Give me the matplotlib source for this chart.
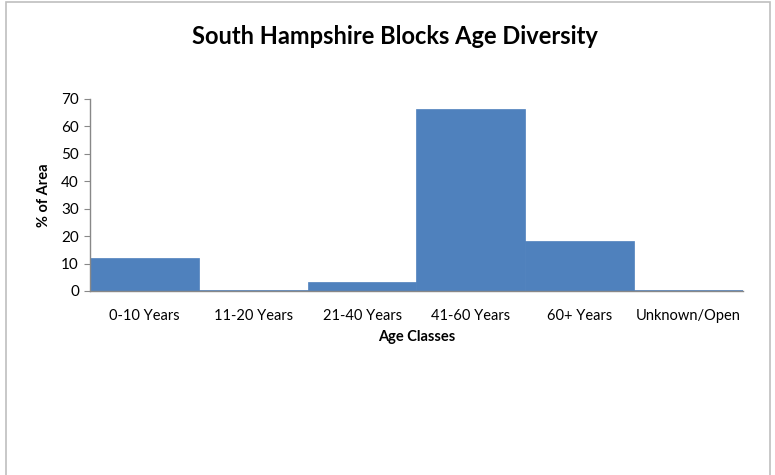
import matplotlib.pyplot as plt
from matplotlib.patches import Rectangle

# age class share of area, South Hampshire blocks
categories = ['0-10 Years', '11-20 Years', '21-40 Years', '41-60 Years', '60+ Years', 'Unknown/Open']
pct_area = [11.9, 0.4, 3.2, 66.3, 18.3, 0.3]
yticks = [0, 10, 20, 30, 40, 50, 60, 70]

plt.rcParams['font.family'] = ['Lato', 'DejaVu Sans']

fig = plt.figure(figsize=(7.75, 4.75), dpi=100)
ax = fig.add_axes([90/775, 1 - 291/475, 653/775, 192/475])

# chart frame
fig.patches.append(Rectangle((6/775, -0.05), 764/775, 1 - 2/475 + 0.05,
                             transform=fig.transFigure, fill=False,
                             edgecolor='#BFBFBF', linewidth=1.2))

x = range(len(categories))
ax.bar(x, pct_area, width=1.0, color='#4F81BD', edgecolor='#4F81BD', linewidth=0.5)

ax.set_xlim(-0.5, len(categories) - 0.5)
ax.set_ylim(0, 70)
ax.set_yticks(yticks)
ax.set_xticks(list(x))
ax.set_xticklabels(categories, fontsize=10.5)
ax.tick_params(axis='x', length=0, pad=13)
ax.tick_params(axis='y', length=4, color='#888888', labelsize=11, pad=4)

for s in ['top', 'right']:
    ax.spines[s].set_visible(False)
for s in ['left', 'bottom']:
    ax.spines[s].set_color('#888888')
    ax.spines[s].set_linewidth(1)

ax.set_xlabel('Age Classes', fontsize=10.5, fontweight='bold', labelpad=5)
ax.set_ylabel('% of Area', fontsize=10.5, fontweight='bold', labelpad=7)
fig.text(0.51, 1 - 36/475, 'South Hampshire Blocks Age Diversity', ha='center', va='center',
         fontsize=17, fontweight='bold')

fig.savefig('out.png', dpi=100)
plt.close(fig)
